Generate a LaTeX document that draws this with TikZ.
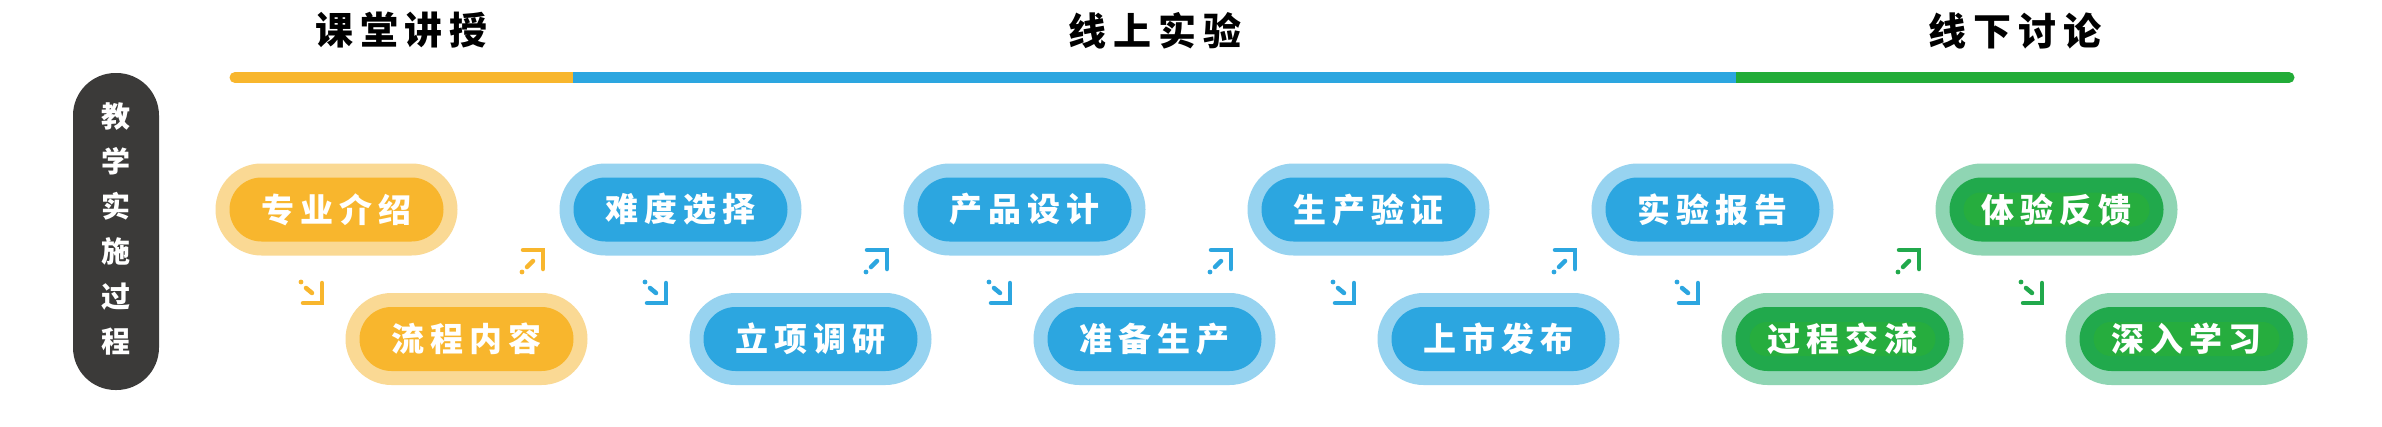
\documentclass[tikz,border=0pt]{standalone}
\usepackage{fontspec}
\newfontfamily\cjk{Noto Sans CJK SC}
\usetikzlibrary{shapes.misc}
\definecolor{cO}{HTML}{F8B62D}
\definecolor{cOl}{HTML}{FAD994}
\definecolor{cB}{HTML}{2CA6E0}
\definecolor{cBl}{HTML}{97D3F0}
\definecolor{cG}{HTML}{22AC38}
\definecolor{cGi}{HTML}{21A94C}
\definecolor{cGt}{HTML}{26AD3E}
\definecolor{cGl}{HTML}{8FD5B3}
\definecolor{cD}{HTML}{3B3A39}
\newcommand\ls{\hspace{0.18em}}
\tikzset{
  outerpill/.style={rounded rectangle, minimum width=242pt, minimum height=92pt, inner sep=0pt, draw=none},
  innerpill/.style={rounded rectangle, minimum width=214pt, minimum height=64pt, inner sep=0pt, draw=none},
  textbg/.style={rounded rectangle, minimum width=186pt, minimum height=34pt, inner sep=0pt, draw=none, fill=cGt},
  pilltext/.style={inner sep=0pt, text=white, font=\cjk\bfseries\fontsize{33}{33}\selectfont},
  titletext/.style={inner sep=0pt, text=black, font=\cjk\bfseries\fontsize{38}{38}\selectfont},
  sidebox/.style={rectangle, rounded corners=42.5pt, fill=cD, minimum width=86pt, minimum height=317pt, inner sep=0pt},
  sidetext/.style={inner sep=0pt, text=white, align=center, font=\cjk\bfseries\fontsize{29}{45}\selectfont},
  barline/.style={line width=11pt},
  arrdn/.pic={
    \draw[line width=4.5pt, line cap=round] (0,-20) -- (0,0) -- (-19,0);
    \draw[line width=4.5pt, line cap=round] (-16,-15) -- (-10,-10);
    \fill (-21,-21) circle (2.4pt);
  },
  arrup/.pic={
    \draw[line width=4.5pt, line cap=round] (-20,0) -- (0,0) -- (0,19);
    \draw[line width=4.5pt, line cap=round] (-16,17) -- (-10,11);
    \fill (-21,22) circle (2.4pt);
  }
}
\newcommand\mypill[6]{%
  \node[outerpill, fill=#4] (#1o) at (#2,#3) {};
  \node[innerpill, fill=#5] (#1i) at (#1o) {};
  \node[pilltext] (#1) at (#1i) {#6};
}
\newcommand\mypillg[4]{%
  \node[outerpill, fill=cGl] (#1o) at (#2,#3) {};
  \node[innerpill, fill=cGi] (#1i) at (#1o) {};
  \node[textbg] (#1b) at (#1i) {};
  \node[pilltext] (#1) at (#1i) {#4};
}
\begin{document}
\begin{tikzpicture}[x=1pt, y=-1pt]
\useasboundingbox[fill=white] (0,0) rectangle (2382,426);
% titles
\node[titletext] (t1) at (401.5,30.5) {课\ls 堂\ls 讲\ls 授};
\node[titletext] (t2) at (1155,30.5) {线\ls 上\ls 实\ls 验};
\node[titletext] (t3) at (2015,30.5) {线\ls 下\ls 讨\ls 论};
% bar
\draw[barline, cO, line cap=round] (235,77.5) -- (574,77.5);
\draw[barline, cG, line cap=round] (1734,77.5) -- (2289,77.5);
\draw[barline, cB] (573,77.5) -- (1736,77.5);
% side label
\node[sidebox] (side) at (116,231.5) {};
\node[sidetext] (sidet) at (116,229) {教\\学\\实\\施\\过\\程};
% pills top row
\mypill{a1}{336.5}{209.5}{cOl}{cO}{专\ls 业\ls 介\ls 绍}
\mypill{a2}{680.5}{209.5}{cBl}{cB}{难\ls 度\ls 选\ls 择}
\mypill{a3}{1024.5}{209.5}{cBl}{cB}{产\ls 品\ls 设\ls 计}
\mypill{a4}{1368.5}{209.5}{cBl}{cB}{生\ls 产\ls 验\ls 证}
\mypill{a5}{1712.5}{209.5}{cBl}{cB}{实\ls 验\ls 报\ls 告}
\mypillg{a6}{2056.5}{209.5}{体\ls 验\ls 反\ls 馈}
% pills bottom row
\mypill{b1}{466.5}{339}{cOl}{cO}{流\ls 程\ls 内\ls 容}
\mypill{b2}{810.5}{339}{cBl}{cB}{立\ls 项\ls 调\ls 研}
\mypill{b3}{1154.5}{339}{cBl}{cB}{准\ls 备\ls 生\ls 产}
\mypill{b4}{1498.5}{339}{cBl}{cB}{上\ls 市\ls 发\ls 布}
\mypillg{b5}{1842.5}{339}{过\ls 程\ls 交\ls 流}
\mypillg{b6}{2186.5}{339}{深\ls 入\ls 学\ls 习}
% arrows
\pic[color=cO] at (322,303) {arrdn};
\pic[color=cO] at (543,250) {arrup};
\pic[color=cB] at (666,303) {arrdn};
\pic[color=cB] at (887,250) {arrup};
\pic[color=cB] at (1010,303) {arrdn};
\pic[color=cB] at (1231,250) {arrup};
\pic[color=cB] at (1354,303) {arrdn};
\pic[color=cB] at (1575,250) {arrup};
\pic[color=cB] at (1698,303) {arrdn};
\pic[color=cGi] at (1919,250) {arrup};
\pic[color=cGi] at (2042,303) {arrdn};
\end{tikzpicture}
\end{document}
